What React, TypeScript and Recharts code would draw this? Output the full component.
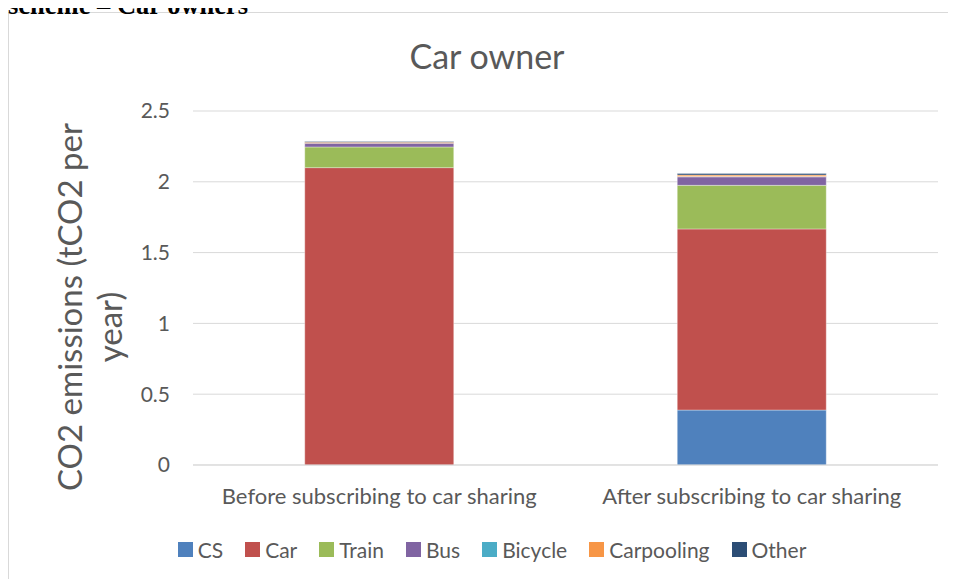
import React from 'react';
import { BarChart, Bar, XAxis, YAxis, CartesianGrid, Legend } from 'recharts';

// Car owner CO2 emissions, before / after car sharing subscription

const categories = ['Before subscribing to car sharing', 'After subscribing to car sharing'];
const csValues = [0, 0.388];
const carValues = [2.1, 1.279];
const trainValues = [0.146, 0.308];
const busValues = [0.026, 0.06];
const bicycleValues = [0, 0.003];
const carpoolingValues = [0.008, 0.01];
const otherValues = [0.004, 0.01];
const yTicks = [0, 0.5, 1, 1.5, 2, 2.5];

const series = [
  { key: 'CS', values: csValues, color: '#4f81bd' },
  { key: 'Car', values: carValues, color: '#c0504d' },
  { key: 'Train', values: trainValues, color: '#9bbb59' },
  { key: 'Bus', values: busValues, color: '#8064a2' },
  { key: 'Bicycle', values: bicycleValues, color: '#4bacc6' },
  { key: 'Carpooling', values: carpoolingValues, color: '#f79646' },
  { key: 'Other', values: otherValues, color: '#2c4d75' },
];

const chartData = categories.map((name, i) => {
  const row: Record<string, string | number> = { name };
  series.forEach((s) => {
    row[s.key] = s.values[i];
  });
  return row;
});

const FONT = 'Lato, "Open Sans", sans-serif';
const GREY = '#595959';

function renderLegend() {
  return (
    <div
      style={{
        display: 'flex',
        justifyContent: 'center',
        alignItems: 'center',
        height: 20,
        fontFamily: FONT,
        fontSize: 21,
        color: GREY,
      }}
    >
      {series.map((s) => (
        <div key={s.key} style={{ display: 'flex', alignItems: 'center', margin: '0 11px' }}>
          <span style={{ width: 15, height: 15, background: s.color, marginRight: 5 }} />
          <span>{s.key}</span>
        </div>
      ))}
    </div>
  );
}

export default function App() {
  return (
    <div style={{ position: 'relative', width: 948, height: 571 }}>
      <div
        style={{
          position: 'absolute',
          left: 0,
          top: 4,
          width: 947,
          height: 566,
          borderTop: '1px solid #d9d9d9',
          borderLeft: '1px solid #d9d9d9',
        }}
      >
        <BarChart
          width={947}
          height={566}
          data={chartData}
          margin={{ top: 98, right: 18, bottom: 54, left: 0 }}
          barCategoryGap="30%"
        >
          <text x={478} y={56} textAnchor="middle" fontFamily={FONT} fontSize={34} fill={GREY}>
            Car owner
          </text>
          <text
            transform="rotate(-90 60 294)"
            x={60}
            y={294}
            textAnchor="middle"
            dominantBaseline="central"
            fontFamily={FONT}
            fontSize={33}
            fill={GREY}
          >
            CO2 emissions (tCO2 per
          </text>
          <text
            transform="rotate(-90 100 314)"
            x={100}
            y={314}
            textAnchor="middle"
            dominantBaseline="central"
            fontFamily={FONT}
            fontSize={33}
            fill={GREY}
          >
            year)
          </text>
          <CartesianGrid vertical={false} stroke="#d9d9d9" />
          <XAxis
            dataKey="name"
            height={40}
            axisLine={{ stroke: '#d9d9d9' }}
            tickLine={false}
            tickSize={0}
            tickMargin={23}
            tick={{ fill: GREY, fontSize: 22, fontFamily: FONT }}
          />
          <YAxis
            width={184}
            domain={[0, 2.5]}
            ticks={yTicks}
            axisLine={false}
            tickLine={false}
            tickSize={0}
            tickMargin={23}
            tickFormatter={(v: number) => String(v)}
            tick={{ fill: GREY, fontSize: 21, fontFamily: FONT }}
          />
          <Legend
            content={renderLegend}
            verticalAlign="bottom"
            wrapperStyle={{ top: 526, bottom: 'auto', left: 19, width: 928 }}
          />
          {series.map((s) => (
            <Bar
              key={s.key}
              dataKey={s.key}
              stackId="a"
              fill={s.color}
              stroke="rgba(255,255,255,0.35)"
              strokeWidth={1}
              isAnimationActive={false}
            />
          ))}
        </BarChart>
      </div>
      <div
        style={{
          position: 'absolute',
          left: 0,
          top: -16,
          zIndex: 5,
          fontFamily: '"Liberation Serif", "Times New Roman", serif',
          fontWeight: 700,
          fontSize: 26.5,
          lineHeight: '26px',
          whiteSpace: 'nowrap',
          color: '#000',
        }}
      >
        scheme – Car owners
      </div>
    </div>
  );
}
